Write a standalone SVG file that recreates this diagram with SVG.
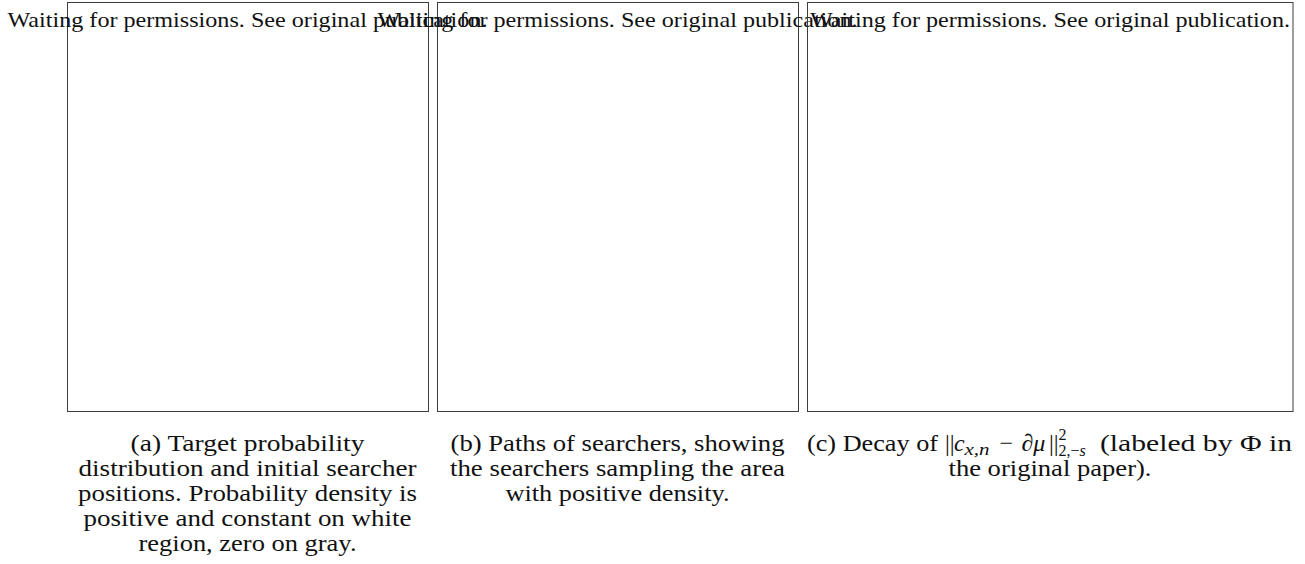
<svg xmlns="http://www.w3.org/2000/svg" width="1305" height="564" viewBox="0 0 1305 564">
<style>
  .bg { fill: #ffffff; }
  .box { fill: none; stroke: #3c3c3c; stroke-width: 1; }
  text { font-family: "Liberation Serif", "DejaVu Serif", serif; fill: #111111; }
  .ph { font-size: 22px; }
  .cap { font-size: 24px; }
  .it { font-style: italic; }
  .sc { font-size: 16px; }
</style>
<rect class="bg" x="0" y="0" width="1305" height="564"/>
<g id="connectors"></g>
<g id="panel-a">
  <rect class="box" x="67.5" y="2.5" width="361" height="409"/>
  <text class="ph" x="7.5" y="27" textLength="480" lengthAdjust="spacingAndGlyphs">Waiting for permissions. See original publication.</text>
  <text class="cap" x="130.5" y="451" textLength="234" lengthAdjust="spacingAndGlyphs">(a) Target probability</text>
  <text class="cap" x="78.5" y="476" textLength="338" lengthAdjust="spacingAndGlyphs">distribution and initial searcher</text>
  <text class="cap" x="78" y="501" textLength="339" lengthAdjust="spacingAndGlyphs">positions. Probability density is</text>
  <text class="cap" x="83.5" y="526" textLength="328" lengthAdjust="spacingAndGlyphs">positive and constant on white</text>
  <text class="cap" x="138.5" y="551" textLength="218" lengthAdjust="spacingAndGlyphs">region, zero on gray.</text>
</g>
<g id="panel-b">
  <rect class="box" x="437.5" y="2.5" width="361" height="409"/>
  <text class="ph" x="377.5" y="27" textLength="480" lengthAdjust="spacingAndGlyphs">Waiting for permissions. See original publication.</text>
  <text class="cap" x="450.5" y="451" textLength="334" lengthAdjust="spacingAndGlyphs">(b) Paths of searchers, showing</text>
  <text class="cap" x="450" y="476" textLength="335" lengthAdjust="spacingAndGlyphs">the searchers sampling the area</text>
  <text class="cap" x="505.5" y="501" textLength="224" lengthAdjust="spacingAndGlyphs">with positive density.</text>
</g>
<g id="panel-c">
  <rect class="box" x="807.5" y="2.5" width="485.5" height="409"/>
  <text class="ph" x="810" y="27" textLength="480" lengthAdjust="spacingAndGlyphs">Waiting for permissions. See original publication.</text>
  <text class="cap"><tspan x="807" y="451" textLength="131" lengthAdjust="spacingAndGlyphs">(c) Decay of</tspan><tspan x="945" y="451">||</tspan><tspan class="it" x="954" y="451">c</tspan><tspan class="sc it" x="964.5" y="454.5" textLength="25" lengthAdjust="spacingAndGlyphs">x,n</tspan><tspan x="999.5" y="451">−</tspan><tspan class="it" x="1021.5" y="451">∂μ</tspan><tspan x="1049" y="451">||</tspan><tspan class="sc" x="1058.5" y="440">2</tspan><tspan class="sc" x="1058.5" y="455.5">2,−</tspan><tspan class="sc it">s</tspan><tspan x="1100" y="451" textLength="192" lengthAdjust="spacingAndGlyphs">(labeled by Φ in</tspan></text>
  <text class="cap" x="948.5" y="476" textLength="203" lengthAdjust="spacingAndGlyphs">the original paper).</text>
</g>
</svg>
